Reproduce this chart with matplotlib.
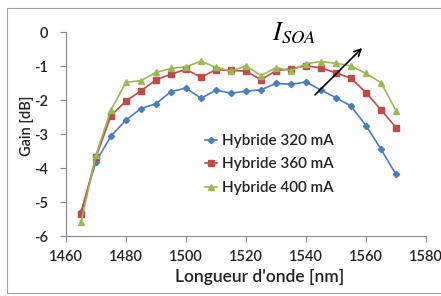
import matplotlib
matplotlib.use("Agg")
import matplotlib.pyplot as plt
from matplotlib.patches import Rectangle

wavelengths = [1465, 1470, 1475, 1480, 1485, 1490, 1495, 1500, 1505, 1510, 1515,
               1520, 1525, 1530, 1535, 1540, 1545, 1550, 1555, 1560, 1565, 1570]
gain_320 = [-5.30, -3.81, -3.06, -2.59, -2.25, -2.11, -1.75, -1.65, -1.95, -1.71, -1.80,
            -1.74, -1.70, -1.51, -1.54, -1.47, -1.71, -1.93, -2.18, -2.75, -3.45, -4.19]
gain_360 = [-5.35, -3.67, -2.46, -2.03, -1.73, -1.41, -1.24, -1.10, -1.33, -1.11, -1.13,
            -1.15, -1.40, -1.14, -1.08, -0.99, -1.06, -1.20, -1.36, -1.78, -2.29, -2.81]
gain_400 = [-5.60, -3.61, -2.29, -1.48, -1.43, -1.19, -1.07, -1.02, -0.86, -1.04, -1.15,
            -1.00, -1.28, -1.05, -1.14, -0.93, -0.87, -0.92, -1.00, -1.22, -1.49, -2.31]
labels = ["Hybride 320 mA", "Hybride 360 mA", "Hybride 400 mA"]
x_ticks = [1460, 1480, 1500, 1520, 1540, 1560, 1580]
y_ticks = [0, -1, -2, -3, -4, -5, -6]

plt.rcParams['font.family'] = ['Lato', 'DejaVu Sans']
plt.rcParams['mathtext.fontset'] = 'stix'

W, H = 441, 296
fig = plt.figure(figsize=(W / 100, H / 100), dpi=100)
fig.patch.set_facecolor('white')
# outer chart border
fig.patches.append(Rectangle((7 / W, 1 - 293 / H), (W + 10) / W, (293 - 8) / H,
                             transform=fig.transFigure, fill=False,
                             edgecolor='#A0A0A0', linewidth=0.8))

ax = fig.add_axes([66 / W, 1 - 236 / H, (426 - 66) / W, (236 - 32) / H])
ax.set_facecolor('none')

ax.plot(wavelengths, gain_320, color='#4A7EBB', marker='D', markersize=3.2,
        linewidth=1.2, label=labels[0])
ax.plot(wavelengths, gain_360, color='#BE4B48', marker='s', markersize=4.5,
        linewidth=1.2, label=labels[1])
ax.plot(wavelengths, gain_400, color='#98B954', marker='^', markersize=4.5,
        linewidth=1.2, label=labels[2])

ax.set_xlim(1460, 1580)
ax.set_ylim(-6, 0)
ax.set_xticks(x_ticks)
ax.set_yticks(y_ticks)
ax.set_xticklabels([str(v) for v in x_ticks], fontsize=10.5, fontweight='semibold')
ax.set_yticklabels([str(v) for v in y_ticks], fontsize=10.5, fontweight='semibold')
for s in ['top', 'right']:
    ax.spines[s].set_visible(False)
for s in ['left', 'bottom']:
    ax.spines[s].set_color('#888888')
    ax.spines[s].set_linewidth(0.8)
ax.tick_params(axis='both', direction='out', length=4, color='#888888', width=0.8,
               labelcolor='#222222')
ax.tick_params(axis='x', pad=6)
ax.tick_params(axis='y', pad=9)

fig.text(27 / W, 1 - 126 / H, "Gain [dB]", rotation=90, ha='center', va='center',
         fontsize=10.5, fontweight='semibold', color='#222222')
fig.text(260 / W, 1 - 277 / H, "Longueur d'onde [nm]", ha='center', va='center',
         fontsize=12.5, fontweight='semibold', color='#222222')

leg = ax.legend(loc='upper left', bbox_to_anchor=((205 - 66) / 360, 1 - (134 - 32) / 204),
                frameon=False, fontsize=11, handlelength=0.8, handletextpad=0.3,
                labelspacing=0.62, borderaxespad=0, borderpad=0)
for t in leg.get_texts():
    t.set_fontweight('semibold')
    t.set_color('#222222')

ax.annotate('', xy=(1558.7, -0.47), xytext=(1543, -1.85),
            arrowprops=dict(arrowstyle='->', color='black', lw=1.2,
                            mutation_scale=12, shrinkA=0, shrinkB=0))
ax.text(1536, -0.05, r'$I_{SOA}$', ha='center', va='center', fontsize=19,
        color='black')

fig.savefig('out.png', dpi=100, facecolor='white')
